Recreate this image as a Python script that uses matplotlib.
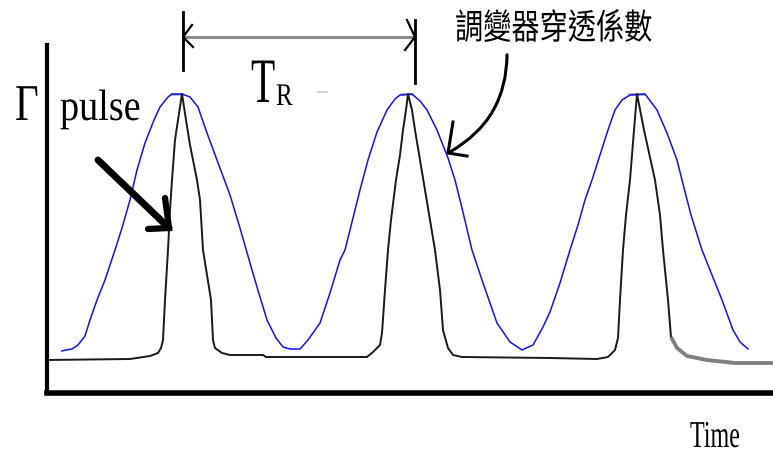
import matplotlib
matplotlib.use("Agg")
import matplotlib.pyplot as plt
from matplotlib.patches import FancyArrowPatch
from matplotlib.patheffects import AbstractPathEffect
from matplotlib.transforms import Affine2D

# 調變器穿透係數 (blue), time vs. level
mod_t = [15, 19, 25, 31, 38, 43, 50, 58, 68, 75, 83, 90, 98, 107, 113, 121, 125, 135,
         143, 151, 160, 170, 183, 193, 203, 210, 220, 229, 236, 243, 253, 261, 273, 283,
         293, 298, 305, 313, 321, 330, 340, 348, 353, 365, 373, 380, 390, 401, 408, 415,
         425, 436, 450, 463, 475, 486, 496, 503, 513, 523, 531, 538, 545, 553, 561, 568,
         575, 583, 598, 610, 620, 630, 635, 644, 655, 665, 675, 686, 693, 701]
mod_v = [42, 43, 44, 48, 57, 73, 93, 113, 143, 165, 193, 223, 250, 273, 286, 296, 299, 299,
         296, 286, 260, 233, 198, 165, 130, 106, 73, 55, 46, 44, 44, 53, 70, 100,
         133, 143, 171, 203, 233, 261, 283, 294, 298, 299, 292, 283, 263, 235, 213, 185,
         143, 110, 70, 51, 43, 48, 66, 81, 110, 143, 168, 193, 213, 238, 263, 283,
         293, 298, 299, 283, 260, 233, 213, 178, 143, 118, 93, 63, 51, 44]

# flat tops of the transmission peaks
cap_start = [123, 353, 581]
cap_end = [136, 366, 598]

# pulse train (black)
pulse_t = [0, 83, 103, 111, 114, 116, 118, 121, 123, 125, 128, 131, 135, 139, 143, 150,
           153, 156, 160, 164, 166, 168, 175, 183, 216, 219, 320, 326, 333, 335, 338, 341,
           344, 349, 353, 356, 359, 361, 365, 368, 373, 378, 383, 388, 393, 396, 401, 406,
           415, 503, 550, 561, 568, 571, 573, 576, 579, 583, 587, 590, 597, 608, 613, 616,
           621, 624]
pulse_v = [33, 34, 37, 40, 45, 53, 93, 143, 183, 213, 253, 273, 299, 273, 248, 213,
           193, 143, 118, 93, 53, 45, 40, 38, 38, 36, 36, 41, 48, 60, 103, 143,
           173, 213, 238, 263, 283, 299, 283, 263, 233, 203, 173, 143, 103, 63, 45, 38,
           36, 35, 34, 36, 43, 55, 93, 143, 178, 213, 263, 299, 263, 213, 178, 143,
           93, 56]
# end of the last pulse (grey)
tail_t = [624, 630, 640, 660, 688, 726]
tail_v = [56, 45, 37, 33, 30, 30]


class Tall(AbstractPathEffect):
    """Stretch glyphs vertically about the baseline (tall, narrow lettering)."""

    def __init__(self, sy):
        super().__init__()
        self.sy = sy

    def draw_path(self, renderer, gc, tpath, affine, rgbFace=None):
        renderer.draw_path(gc, tpath, Affine2D().scale(1, self.sy) + affine, rgbFace)


fig = plt.figure(figsize=(7.73, 4.53), dpi=100)
fig.patch.set_facecolor("white")
ax = fig.add_axes([47 / 773, 60 / 453, 726 / 773, 348 / 453])
ax.set_xlim(0, 726)
ax.set_ylim(0, 348)
ax.set_xticks([])
ax.set_yticks([])
for side in ["top", "right"]:
    ax.spines[side].set_visible(False)
ax.spines["left"].set_linewidth(3)
ax.spines["bottom"].set_linewidth(4)

ax.hlines([299] * 3, cap_start, cap_end, color="#b4b4b4", linewidth=2)
ax.plot(mod_t, mod_v, color="#1010ff", linewidth=1.1)
ax.plot(pulse_t, pulse_v, color="#1a1a1a", linewidth=1.4)
ax.plot(tail_t, tail_v, color="#808080", linewidth=2.8, solid_capstyle="butt")

serif = "Liberation Serif"
ax.text(-32, 273, "Γ", fontsize=29.5, family=serif, ha="left", va="baseline",
        path_effects=[Tall(1.26)], clip_on=False)
ax.text(13, 273, "pulse", fontsize=27.5, family=serif, ha="left", va="baseline",
        path_effects=[Tall(1.15)], clip_on=False)
ax.text(204, 291, "T", fontsize=28.5, family=serif, ha="left", va="baseline",
        path_effects=[Tall(1.6)], clip_on=False)
ax.text(229, 288, "R", fontsize=18, family=serif, ha="left", va="baseline",
        path_effects=[Tall(1.26)], clip_on=False)
ax.text(643, -54, "Time", fontsize=17.3, family=serif, ha="left", va="baseline",
        path_effects=[Tall(1.58)], clip_on=False)
ax.text(408, 354, "調變器穿透係數", fontsize=20.3, family=["Noto Sans CJK TC", "DejaVu Sans"],
        ha="left", va="baseline", path_effects=[Tall(1.25)], clip_on=False)

# T_R span between two peaks
ax.plot([136, 368], [356, 356], color="#8c8c8c", linewidth=2.2, clip_on=False)
ax.plot([136, 136], [323, 381], color="black", linewidth=2, clip_on=False)
ax.plot([368, 368], [310, 373], color="black", linewidth=2, clip_on=False)
ax.plot([145, 136, 146], [368, 356, 346], color="black", linewidth=1.6, clip_on=False)
ax.plot([360, 368, 358], [373, 356, 343], color="black", linewidth=1.6, clip_on=False)
ax.plot([271, 280], [301, 301], color="#c8c8c8", linewidth=1.2)

# thick arrow pointing at the pulse
ax.plot([51, 122], [233, 165], color="black", linewidth=5, solid_capstyle="round")
ax.plot([101, 122, 118], [164, 165, 195], color="black", linewidth=4.5,
        solid_capstyle="round", solid_joinstyle="miter")

# curved arrow from the label down to the blue curve
curve = FancyArrowPatch((460, 341), (401, 240), connectionstyle="arc3,rad=-0.3",
                        arrowstyle="-", color="black", linewidth=2.2, clip_on=False)
ax.add_patch(curve)
ax.plot([406, 401, 420], [271, 240, 237], color="black", linewidth=2.2, clip_on=False)

fig.savefig("out.png", dpi=100)
